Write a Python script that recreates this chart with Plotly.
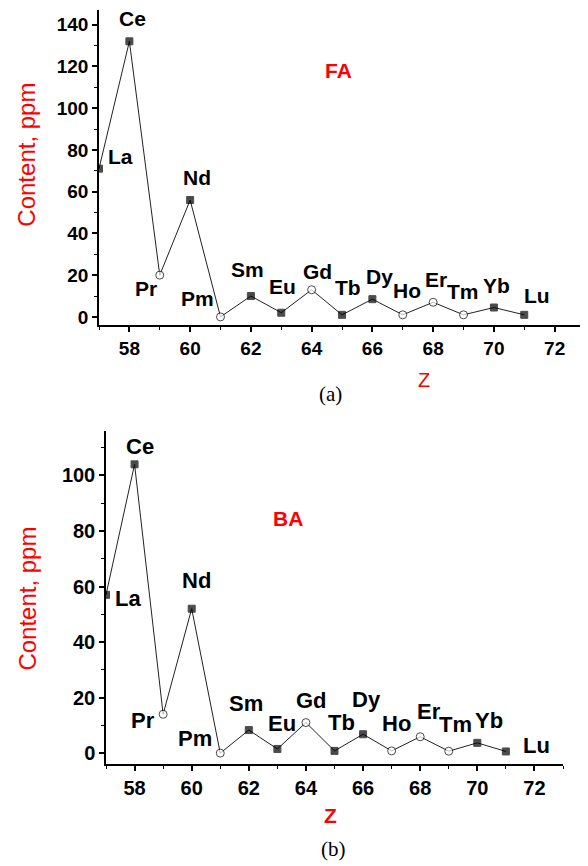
import plotly.graph_objects as go

# ---------------- data ----------------
elements = ["La", "Ce", "Pr", "Nd", "Pm", "Sm", "Eu", "Gd", "Tb", "Dy", "Ho", "Er", "Tm", "Yb", "Lu"]
z_numbers = [57, 58, 59, 60, 61, 62, 63, 64, 65, 66, 67, 68, 69, 70, 71]
fa_content = [71, 132, 20, 56, 0, 10, 2, 13, 1, 8.5, 1, 7, 1, 4.5, 1]
ba_content = [57, 104, 14, 52, 0, 8.3, 1.5, 11, 0.8, 6.8, 0.8, 5.9, 0.7, 3.7, 0.6]
hollow_elements = ["Pr", "Pm", "Gd", "Ho", "Er", "Tm"]
x_ticks = [58, 60, 62, 64, 66, 68, 70, 72]
fa_y_ticks = [0, 20, 40, 60, 80, 100, 120, 140]
ba_y_ticks = [0, 20, 40, 60, 80, 100]

# ---------------- style ----------------
OFF = 8                       # page body margin
W, H = 588 - OFF, 866 - OFF   # figure size inside the page
SANS = "Liberation Sans, Arial, sans-serif"
SERIF = "Liberation Serif, Times New Roman, serif"
RED = "#ff0000"

def px_x(px):
    return (px - OFF) / W

def px_y(py):
    return 1 - (py - OFF) / H

# label offsets (pixels) relative to each data point
fa_offsets = {"La": (21, 12), "Ce": (3, 23), "Pr": (-14, -13), "Nd": (7, 22), "Pm": (-23, 18),
              "Sm": (-3, 27), "Eu": (1, 26), "Gd": (6, 18), "Tb": (6, 27), "Dy": (7, 23),
              "Ho": (4, 24), "Er": (3, 23), "Tm": (-1, 23), "Yb": (3, 22), "Lu": (13, 19)}
ba_offsets = {"La": (22, -4), "Ce": (5, 18), "Pr": (-20, -6), "Nd": (5, 28), "Pm": (-25, 15),
              "Sm": (-3, 27), "Eu": (5, 25), "Gd": (6, 22), "Tb": (7, 28), "Dy": (3, 35),
              "Ho": (5, 27), "Er": (9, 25), "Tm": (7, 27), "Yb": (12, 22), "Lu": (31, 6)}

marker_symbols = ["circle" if e in hollow_elements else "square" for e in elements]
marker_colors = ["white" if e in hollow_elements else "black" for e in elements]
marker_sizes = [8 if e in hollow_elements else 7 for e in elements]

fig = go.Figure()

def add_series(values, xa, ya):
    fig.add_trace(go.Scatter(
        x=z_numbers, y=values, xaxis=xa, yaxis=ya, mode="lines+markers",
        line=dict(color="#222222", width=1),
        marker=dict(symbol=marker_symbols, size=marker_sizes, color=marker_colors,
                    line=dict(color="black", width=1)),
        showlegend=False, hoverinfo="skip"))

add_series(fa_content, "x", "y")
add_series(ba_content, "x2", "y2")

def axis_common(size):
    return dict(showline=True, linecolor="black", linewidth=1.5, mirror=False,
                showgrid=False, zeroline=False, ticks="outside", ticklen=5,
                tickwidth=1.5, tickcolor="black",
                tickfont=dict(family=SANS, size=size, color="black", weight="bold"))

def minor(dt, t0):
    return dict(dtick=dt, tick0=t0, ticks="outside", ticklen=3, tickcolor="black", tickwidth=1.2)

xa1 = axis_common(19); xa1.update(range=[57, 73], tickvals=x_ticks, domain=[px_x(99), px_x(585)], anchor="y",
                                  minor=minor(1, 57))
ya1 = axis_common(19); ya1.update(range=[-4, 147], tickvals=fa_y_ticks, domain=[px_y(326), px_y(10)], anchor="x",
                                  minor=minor(10, 0))
xa2 = axis_common(20); xa2.update(range=[57, 73], tickvals=x_ticks, domain=[px_x(106), px_x(563)], anchor="y2",
                                  minor=minor(1, 57))
ya2 = axis_common(20); ya2.update(range=[-4, 116], tickvals=ba_y_ticks, domain=[px_y(766), px_y(432)], anchor="x2",
                                  minor=minor(10, 0))

annotations = []
for e, zv, v in zip(elements, z_numbers, fa_content):
    dx, dy = fa_offsets[e]
    annotations.append(dict(x=zv, y=v, xref="x", yref="y", text=e, showarrow=False,
                            xshift=dx, yshift=dy,
                            font=dict(family=SANS, size=21, color="black", weight="bold")))
for e, zv, v in zip(elements, z_numbers, ba_content):
    dx, dy = ba_offsets[e]
    annotations.append(dict(x=zv, y=v, xref="x2", yref="y2", text=e, showarrow=False,
                            xshift=dx, yshift=dy,
                            font=dict(family=SANS, size=22, color="black", weight="bold")))

def paper_text(px, py, text, font, angle=0):
    return dict(x=px_x(px), y=px_y(py), xref="paper", yref="paper", text=text, showarrow=False,
                xanchor="center", yanchor="middle", textangle=angle, font=font)

annotations += [
    paper_text(27, 155, "Content, ppm", dict(family=SANS, size=24, color=RED), -90),
    paper_text(28, 600, "Content, ppm", dict(family=SANS, size=24, color=RED), -90),
    paper_text(338, 71, "FA", dict(family=SANS, size=21, color=RED, weight="bold")),
    paper_text(288, 520, "BA", dict(family=SANS, size=21, color=RED, weight="bold")),
    paper_text(424, 381, "Z", dict(family=SANS, size=20, color=RED)),
    paper_text(331, 817, "Z", dict(family=SANS, size=21, color=RED, weight="bold")),
    paper_text(331, 395, "(a)", dict(family=SERIF, size=21, color="black")),
    paper_text(333, 851, "(b)", dict(family=SERIF, size=21, color="black")),
]

fig.update_layout(
    width=W, height=H, margin=dict(l=0, r=0, t=0, b=0),
    paper_bgcolor="white", plot_bgcolor="white",
    xaxis=xa1, yaxis=ya1, xaxis2=xa2, yaxis2=ya2,
    annotations=annotations, showlegend=False,
)

fig.write_html("out.html")
